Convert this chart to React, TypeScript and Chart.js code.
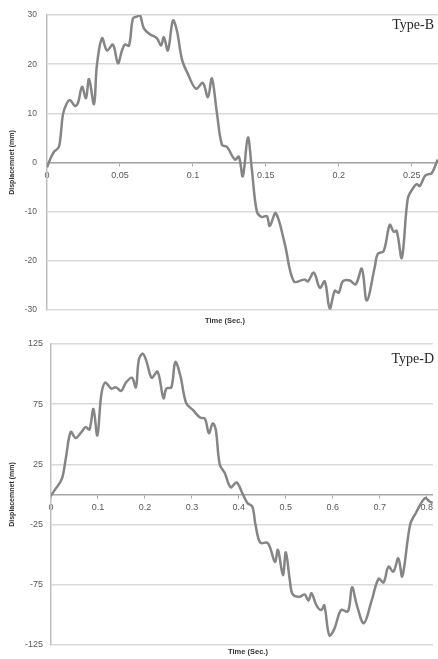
import React, { useEffect, useRef } from "react";
import { Chart, registerables } from "chart.js";

Chart.register(...registerables);

// ---- Type-B (top chart) ----
const timeB = [
  0, 0.0021, 0.0048, 0.0082, 0.011, 0.0137, 0.0158, 0.0192, 0.0212, 0.024,
  0.0267, 0.0288, 0.0322, 0.0342, 0.0377, 0.0411, 0.0452, 0.0486, 0.0514, 0.0534,
  0.0562, 0.0589, 0.0616, 0.0637, 0.0664, 0.0705, 0.0753, 0.0781, 0.0801, 0.0829,
  0.0863, 0.089, 0.0925, 0.0966, 0.1021, 0.1068, 0.1103, 0.113, 0.1164, 0.1199,
  0.1233, 0.1288, 0.1315, 0.1342, 0.1377, 0.1404, 0.1438, 0.1473, 0.1507, 0.1527,
  0.1568, 0.163, 0.1692, 0.1767, 0.1788, 0.1829, 0.187, 0.1904, 0.1938, 0.1973,
  0.2, 0.2027, 0.2075, 0.2116, 0.2158, 0.2192, 0.2247, 0.2267, 0.2308, 0.2349,
  0.2377, 0.2397, 0.2432, 0.2473, 0.2507, 0.2534, 0.2555, 0.2589, 0.261, 0.2637,
  0.2678,
];
const dispB = [
  -1.0, 0.6, 2.2, 3.2, 9.9, 12.1, 12.7, 11.5, 12.1, 15.4,
  13.1, 17.0, 11.9, 19.8, 25.3, 22.8, 24.0, 20.2, 22.8, 24.0,
  23.8, 29.3, 29.7, 30.0, 27.3, 26.1, 25.3, 23.8, 25.5, 22.8,
  28.9, 26.9, 21.0, 18.0, 15.0, 16.2, 13.3, 17.1, 10.2, 3.6,
  3.2, 0.6, 1.2, -2.8, 5.1, -1.4, -9.9, -11.1, -10.9, -12.9,
  -10.3, -16.6, -24.2, -23.8, -24.2, -22.4, -25.5, -24.2, -29.7, -26.1,
  -26.5, -24.2, -24.0, -24.8, -21.6, -28.1, -21.2, -18.6, -18.0, -12.7,
  -14.1, -13.9, -19.4, -7.3, -5.3, -4.4, -4.8, -2.8, -2.4, -2.2,
  0.6,
];
const xTicksB = [0, 0.05, 0.1, 0.15, 0.2, 0.25];
const yTicksB = [-30, -20, -10, 0, 10, 20, 30];
const xMaxB = 0.268;

// ---- Type-D (bottom chart) ----
const timeD = [
  0, 0.0084, 0.0231, 0.0315, 0.042, 0.0525, 0.0651, 0.0735, 0.0819, 0.0903,
  0.0987, 0.1071, 0.1155, 0.1282, 0.1387, 0.1492, 0.1597, 0.1723, 0.1807, 0.187,
  0.1954, 0.2038, 0.2143, 0.2269, 0.2395, 0.2458, 0.2563, 0.2647, 0.2752, 0.2878,
  0.3025, 0.3172, 0.3277, 0.3361, 0.3445, 0.3508, 0.3592, 0.3697, 0.3824, 0.395,
  0.4076, 0.4181, 0.4286, 0.4349, 0.4454, 0.4601, 0.4664, 0.4769, 0.4832, 0.4937,
  0.5, 0.5084, 0.5147, 0.5294, 0.5399, 0.5483, 0.5546, 0.5651, 0.5756, 0.5819,
  0.5924, 0.6029, 0.6176, 0.6324, 0.6408, 0.6513, 0.666, 0.6828, 0.6975, 0.708,
  0.7185, 0.729, 0.7395, 0.7479, 0.7647, 0.7773, 0.7962, 0.8067, 0.813,
];
const dispD = [
  -1, 4, 13, 30, 52, 47, 52, 56, 54, 71,
  49, 83, 93, 88, 89, 86, 93, 97, 89, 112,
  117, 110, 97, 102, 80, 88, 89, 110, 99, 76,
  70, 64, 63, 51, 59, 54, 25, 18, 6, 10,
  1, -7, -10, -24, -40, -40, -44, -56, -46, -67,
  -48, -71, -83, -85, -83, -88, -82, -92, -96, -92,
  -117, -112, -96, -97, -77, -92, -107, -88, -70, -73,
  -60, -64, -53, -68, -25, -15, -3, -6, -7,
];
const xTicksD = [0, 0.1, 0.2, 0.3, 0.4, 0.5, 0.6, 0.7, 0.8];
const yTicksD = [-125, -75, -25, 25, 75, 125];
const xMaxD = 0.813;

const X_TITLE = "Time (Sec.)";
const Y_TITLE = "Displacemnet (mm)";
const LABEL_B = "Type-B";
const LABEL_D = "Type-D";

type PanelProps = {
  time: number[];
  disp: number[];
  xTicks: number[];
  yTicks: number[];
  xMax: number;
  yMin: number;
  yMax: number;
  label: string;
  top: number;
  height: number;
  yWidth: number;
  padTop: number;
  padBottom: number;
  yTickSize: number;
  yTickPad: number;
  xTitleX: number;
  xTitleY: number;
  labelY: number;
};

function Panel(p: PanelProps) {
  const ref = useRef<HTMLCanvasElement>(null);
  useEffect(() => {
    const overlay = {
      id: "overlayText",
      afterDraw(chart: any) {
        const ctx = chart.ctx;
        ctx.save();
        ctx.fillStyle = "#262626";
        ctx.font = '14px "Liberation Serif"';
        ctx.textAlign = "right";
        ctx.textBaseline = "middle";
        ctx.fillText(p.label, 434, p.labelY);
        ctx.fillStyle = "#333333";
        ctx.font = 'bold 7.5px "Liberation Sans"';
        ctx.textAlign = "center";
        ctx.fillText(X_TITLE, p.xTitleX, p.xTitleY);
        ctx.restore();
      },
    };
    const chart = new Chart(ref.current as HTMLCanvasElement, {
      type: "line",
      data: {
        datasets: [
          {
            data: p.time.map((t, i) => ({ x: t, y: p.disp[i] })),
            borderColor: "#858585",
            borderWidth: 2.5,
            pointRadius: 0,
            tension: 0.35,
            fill: false,
          },
        ],
      },
      options: {
        responsive: false,
        animation: false,
        layout: { padding: { top: p.padTop, bottom: p.padBottom, left: 0, right: 0 } },
        plugins: { legend: { display: false }, tooltip: { enabled: false } },
        scales: {
          x: {
            type: "linear",
            min: 0,
            max: p.xMax,
            position: { y: 0 } as any,
            afterBuildTicks: (s: any) => {
              s.ticks = p.xTicks.map((v) => ({ value: v }));
            },
            ticks: {
              callback: (v: any) => String(v),
              font: { family: "Liberation Sans", size: 9 },
              color: "#595959",
              padding: 5,
              maxRotation: 0,
              autoSkip: false,
            },
            grid: { drawOnChartArea: false, drawTicks: true, tickLength: 3, color: "#a6a6a6", lineWidth: 1 },
            border: { display: true, color: "#a6a6a6", width: 1.5 },
          },
          y: {
            type: "linear",
            min: p.yMin,
            max: p.yMax,
            afterBuildTicks: (s: any) => {
              s.ticks = p.yTicks.map((v) => ({ value: v }));
            },
            afterFit: (s: any) => {
              s.width = p.yWidth;
            },
            ticks: {
              callback: (v: any) => String(v),
              font: { family: "Liberation Sans", size: p.yTickSize },
              color: "#595959",
              padding: p.yTickPad,
              autoSkip: false,
            },
            grid: { color: "#d9d9d9", lineWidth: 1.5, drawTicks: false },
            border: { display: true, color: "#bfbfbf", width: 1.5 },
            title: {
              display: true,
              text: Y_TITLE,
              font: { family: "Liberation Sans", size: 7, weight: "bold" },
              color: "#333333",
              padding: { top: 8, bottom: 0 },
            },
          },
        },
      },
      plugins: [overlay],
    });
    return () => chart.destroy();
  }, []);
  return (
    <canvas
      ref={ref}
      width={438}
      height={p.height}
      style={{ position: "absolute", left: 0, top: p.top, display: "block", width: 438, height: p.height }}
    />
  );
}

export default function App() {
  return (
    <div style={{ position: "absolute", left: 0, top: 0, width: 438, height: 659, background: "#ffffff" }}>
      <Panel
        time={timeB}
        disp={dispB}
        xTicks={xTicksB}
        yTicks={yTicksB}
        xMax={xMaxB}
        yMin={-30}
        yMax={30}
        label={LABEL_B}
        top={0}
        height={325}
        yWidth={47}
        padTop={11}
        padBottom={11}
        yTickSize={8.5}
        yTickPad={10}
        xTitleX={225}
        xTitleY={321}
        labelY={25}
      />
      <Panel
        time={timeD}
        disp={dispD}
        xTicks={xTicksD}
        yTicks={yTicksD}
        xMax={xMaxD}
        yMin={-125}
        yMax={125}
        label={LABEL_D}
        top={325}
        height={334}
        yWidth={51}
        padTop={19}
        padBottom={14}
        yTickSize={9}
        yTickPad={8}
        xTitleX={248}
        xTitleY={327}
        labelY={34}
      />
    </div>
  );
}
